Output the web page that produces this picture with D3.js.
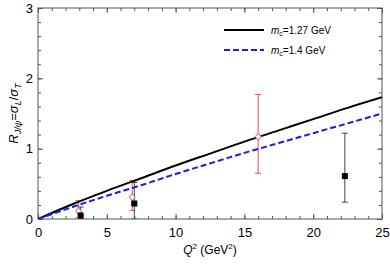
<!DOCTYPE html>
<html>
<head>
<meta charset="utf-8">
<script src="https://cdn.jsdelivr.net/npm/d3@7"></script>
<style>
body { margin: 0; background: #fff; }
text { font-family: "Liberation Sans", Arial, sans-serif; }
</style>
</head>
<body>
<svg width="390" height="264"></svg>
<script>
// theory curves
var q2Grid = [0, 2.5, 5, 7.5, 10, 12.5, 15, 17.5, 20, 22.5, 25];
var curve127 = [0, 0.21, 0.40, 0.58, 0.76, 0.93, 1.10, 1.26, 1.42, 1.58, 1.73];
var curve14 = [0, 0.17, 0.33, 0.48, 0.64, 0.79, 0.94, 1.08, 1.22, 1.36, 1.50];

// data points: x, value, lower, upper
var redX = [2.95, 6.85, 16.0];
var redY = [0.11, 0.31, 1.17];
var redLo = [0.02, 0.12, 0.65];
var redHi = [0.26, 0.55, 1.77];

var blackX = [3.1, 7.0, 22.3];
var blackY = [0.05, 0.22, 0.61];
var blackLo = [0.0, 0.0, 0.24];
var blackHi = [0.17, 0.52, 1.22];

var xTicks = [0, 5, 10, 15, 20, 25];
var yTicks = [0, 1, 2, 3];

var svg = d3.select("svg");
var margin = {top: 8, right: 8, bottom: 45, left: 38};
var width = +svg.attr("width") - margin.left - margin.right;
var height = +svg.attr("height") - margin.top - margin.bottom;

var x = d3.scaleLinear().domain([0, 25]).range([0, width]);
var y = d3.scaleLinear().domain([0, 3]).range([height, 0]);

var g = svg.append("g")
  .attr("transform", "translate(" + margin.left + "," + margin.top + ")");

// frame with inward ticks
var axColor = "#555";
function styleAxis(sel) {
  sel.select(".domain").remove();
  sel.selectAll("line").attr("stroke", axColor);
  sel.selectAll("text").attr("font-size", 13).attr("fill", "#000");
}
var xMinor = d3.range(0, 26, 1);
var yMinor = d3.range(0, 3.01, 0.2);

g.append("g").attr("transform", "translate(0," + height + ")")
  .call(d3.axisBottom(x).tickValues(xMinor).tickSize(-3).tickFormat(""))
  .call(styleAxis);
g.append("g").attr("transform", "translate(0," + height + ")")
  .call(d3.axisBottom(x).tickValues(xTicks).tickSize(-5).tickPadding(9).tickFormat(d3.format("d")))
  .call(styleAxis);
g.append("g")
  .call(d3.axisTop(x).tickValues(xMinor).tickSize(-3).tickFormat(""))
  .call(styleAxis);
g.append("g")
  .call(d3.axisTop(x).tickValues(xTicks).tickSize(-5).tickFormat(""))
  .call(styleAxis);
g.append("g")
  .call(d3.axisLeft(y).tickValues(yMinor).tickSize(-3).tickFormat(""))
  .call(styleAxis);
g.append("g")
  .call(d3.axisLeft(y).tickValues(yTicks).tickSize(-5).tickPadding(5).tickFormat(d3.format("d")))
  .call(styleAxis);
g.append("g").attr("transform", "translate(" + width + ",0)")
  .call(d3.axisRight(y).tickValues(yMinor).tickSize(-3).tickFormat(""))
  .call(styleAxis);
g.append("g").attr("transform", "translate(" + width + ",0)")
  .call(d3.axisRight(y).tickValues(yTicks).tickSize(-5).tickFormat(""))
  .call(styleAxis);

g.append("rect")
  .attr("width", width).attr("height", height)
  .attr("fill", "none").attr("stroke", axColor).attr("stroke-width", 1);

// clip
svg.append("defs").append("clipPath").attr("id", "clip")
  .append("rect").attr("width", width).attr("height", height);
var plot = g.append("g").attr("clip-path", "url(#clip)");

// error bars
function errBars(xs, lo, hi, color) {
  var idx = d3.range(xs.length);
  plot.selectAll(null).data(idx).enter().append("line")
    .attr("x1", function(i) { return x(xs[i]); })
    .attr("x2", function(i) { return x(xs[i]); })
    .attr("y1", function(i) { return y(lo[i]); })
    .attr("y2", function(i) { return y(hi[i]); })
    .attr("stroke", color).attr("stroke-width", 1);
  [lo, hi].forEach(function(arr) {
    plot.selectAll(null).data(idx).enter().append("line")
      .attr("x1", function(i) { return x(xs[i]) - 3; })
      .attr("x2", function(i) { return x(xs[i]) + 3; })
      .attr("y1", function(i) { return y(arr[i]); })
      .attr("y2", function(i) { return y(arr[i]); })
      .attr("stroke", color).attr("stroke-width", 1);
  });
}
errBars(redX, redLo, redHi, "#f05050");
errBars(blackX, blackLo, blackHi, "#444");

// curves
var line = d3.line()
  .x(function(d) { return x(d[0]); })
  .y(function(d) { return y(d[1]); })
  .curve(d3.curveMonotoneX);

plot.append("path")
  .datum(d3.zip(q2Grid, curve127))
  .attr("d", line).attr("fill", "none")
  .attr("stroke", "#000").attr("stroke-width", 2);
plot.append("path")
  .datum(d3.zip(q2Grid, curve14))
  .attr("d", line).attr("fill", "none")
  .attr("stroke", "#1a1aee").attr("stroke-width", 2)
  .attr("stroke-dasharray", "6,3");

// markers
plot.selectAll(".dia").data(d3.range(redX.length)).enter().append("path")
  .attr("class", "dia")
  .attr("transform", function(i) { return "translate(" + x(redX[i]) + "," + y(redY[i]) + ")"; })
  .attr("d", "M0,-3.5L3,0L0,3.5L-3,0Z")
  .attr("fill", "#fff").attr("stroke", "#f05050").attr("stroke-width", 1);
plot.selectAll(".sq").data(d3.range(blackX.length)).enter().append("rect")
  .attr("class", "sq")
  .attr("x", function(i) { return x(blackX[i]) - 3; })
  .attr("y", function(i) { return y(blackY[i]) - 3; })
  .attr("width", 6).attr("height", 6)
  .attr("fill", "#000");

// legend
var leg = g.append("g").attr("transform", "translate(186,22)");
leg.append("line").attr("x1", 0).attr("x2", 40).attr("y1", 0).attr("y2", 0)
  .attr("stroke", "#000").attr("stroke-width", 2);
leg.append("line").attr("x1", 0).attr("x2", 40).attr("y1", 20).attr("y2", 20)
  .attr("stroke", "#1a1aee").attr("stroke-width", 2).attr("stroke-dasharray", "6,3");
var lt1 = leg.append("text").attr("x", 47).attr("y", 4).attr("font-size", 10);
lt1.append("tspan").attr("font-style", "italic").text("m");
lt1.append("tspan").attr("font-size", 7).attr("dy", 2).text("c");
lt1.append("tspan").attr("dy", -2).text("=1.27 GeV");
var lt2 = leg.append("text").attr("x", 47).attr("y", 24).attr("font-size", 10);
lt2.append("tspan").attr("font-style", "italic").text("m");
lt2.append("tspan").attr("font-size", 7).attr("dy", 2).text("c");
lt2.append("tspan").attr("dy", -2).text("=1.4 GeV");

// x label
var xl = svg.append("text")
  .attr("x", margin.left + width / 2).attr("y", 254)
  .attr("text-anchor", "middle").attr("font-size", 12);
xl.append("tspan").attr("font-style", "italic").text("Q");
xl.append("tspan").attr("font-size", 8).attr("dy", -5).text("2");
xl.append("tspan").attr("dy", 5).text(" (GeV");
xl.append("tspan").attr("font-size", 8).attr("dy", -5).text("2");
xl.append("tspan").attr("dy", 5).text(")");

// y label
var yl = svg.append("text")
  .attr("transform", "translate(18," + (margin.top + height / 2) + ") rotate(-90)")
  .attr("text-anchor", "middle").attr("font-size", 13);
yl.append("tspan").attr("font-style", "italic").text("R");
yl.append("tspan").attr("font-style", "italic").attr("font-size", 9).attr("dy", 3).text("J/ψ");
yl.append("tspan").attr("dy", -3).text("=");
yl.append("tspan").attr("font-style", "italic").text("σ");
yl.append("tspan").attr("font-style", "italic").attr("font-size", 9).attr("dy", 3).text("L");
yl.append("tspan").attr("dy", -3).text("/");
yl.append("tspan").attr("font-style", "italic").text("σ");
yl.append("tspan").attr("font-style", "italic").attr("font-size", 9).attr("dy", 3).text("T");
</script>
</body>
</html>
